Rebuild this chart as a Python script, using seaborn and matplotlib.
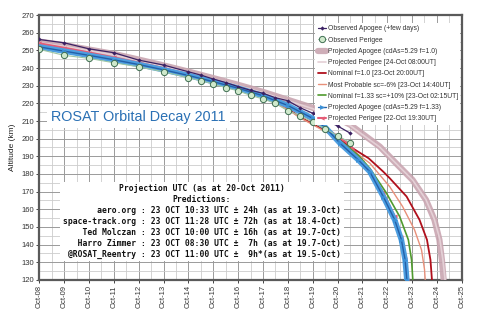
import matplotlib
matplotlib.use("Agg")
import matplotlib.pyplot as plt
from matplotlib.ticker import MultipleLocator
import seaborn as sns
import pandas as pd

# ---- data (days since Oct-08 00:00 UT, altitude km) ----
tick_labels = ["Oct-08", "Oct-09", "Oct-10", "Oct-11", "Oct-12", "Oct-13", "Oct-14",
               "Oct-15", "Oct-16", "Oct-17", "Oct-18", "Oct-19", "Oct-20", "Oct-21",
               "Oct-22", "Oct-23", "Oct-24", "Oct-25"]

obs_days = [0, 1, 2, 3, 4, 5, 6, 6.5, 7, 7.5, 8, 8.5, 9, 9.5, 10, 10.5, 11, 11.5, 12, 12.5]
obs_apogee = [256.2, 254.3, 250.9, 248.7, 244.5, 241.7, 237.9, 236.0, 233.8, 231.8,
              229.5, 227.4, 225.7, 223.2, 221.5, 217.5, 214.4, 210.6, 207.2, 203.2]
obs_perigee = [250.6, 247.2, 245.5, 243.0, 240.7, 237.9, 234.5, 232.9, 231.0, 228.9,
               227.1, 224.5, 222.5, 220.0, 215.8, 213.0, 209.3, 205.7, 201.7, 197.8]

apo10_days = [0, 1, 2, 3, 4, 5, 6, 7, 8, 9, 10, 11, 12, 12.5, 13.17, 13.7, 14.35,
              15.02, 15.56, 15.9, 16.1, 16.2, 16.27]
apo10_alt = [255.0, 253.0, 250.5, 248.0, 244.8, 241.5, 238.0, 234.3, 230.5, 226.5,
             222.0, 217.5, 211.5, 208.0, 201.0, 195.5, 186.1, 176.6, 165.3, 154.0,
             142.7, 131.3, 120.0]

per24_days = [0, 1, 2, 3, 4, 5, 6, 7, 8, 9, 10, 11, 12, 12.5, 13.17, 13.7, 14.35,
              15.02, 15.56, 15.9, 16.12, 16.24, 16.33]
per24_alt = [254.3, 252.3, 249.9, 247.4, 244.3, 241.0, 237.5, 233.8, 230.0, 226.0,
             221.5, 217.0, 211.0, 207.5, 200.6, 195.2, 186.0, 176.6, 165.4, 154.2,
             142.8, 131.4, 120.0]

nom10_days = [0, 2, 4, 6, 8, 9, 10, 10.46, 11.83, 12.5, 13.25, 13.84, 14.1, 14.78,
              15.3, 15.6, 15.74, 15.8]
nom10_alt = [252.8, 247.8, 242.6, 236.2, 228.3, 223.8, 217.0, 212.5, 202.1, 195.5,
             188.9, 181.3, 177.6, 167.2, 154.0, 142.7, 131.3, 120.0]

prob_days = [0, 2, 4, 6, 8, 9, 10, 10.46, 11.83, 12.5, 13.3, 14.1, 14.62, 15.1,
             15.38, 15.5, 15.53]
prob_alt = [252.4, 247.4, 242.2, 235.8, 227.9, 223.4, 216.6, 212.1, 201.5, 194.5,
            186.1, 172.8, 161.5, 148.3, 137.0, 126.0, 120.0]

nom133_days = [0, 1, 2, 3, 4, 5, 6, 7, 8, 9, 10, 11, 12, 12.84, 13.3, 13.97, 14.5,
               14.85, 14.98, 15.03]
nom133_alt = [252.8, 250.3, 247.8, 245.2, 242.5, 239.5, 236.3, 232.8, 229.0, 224.8,
              219.3, 212.0, 200.0, 190.5, 183.2, 169.1, 155.9, 142.7, 131.3, 120.0]

apo133_days = [0, 1, 2, 3, 4, 5, 6, 7, 8, 9, 10, 11, 11.5, 12.1, 12.84, 13.3, 13.84,
               14.3, 14.57, 14.72, 14.79]
apo133_alt = [252.0, 249.6, 247.2, 244.7, 242.0, 239.0, 235.8, 232.3, 228.6, 224.3,
              218.8, 211.5, 206.5, 197.4, 187.9, 181.3, 167.2, 154.0, 142.7, 131.3,
              120.0]

per22_days = [0, 1, 2, 3, 4, 5, 6, 7, 8, 9, 10, 10.5, 11, 11.5, 12, 12.5, 13, 13.44,
              13.84, 14.3, 14.57, 14.72, 14.8]
per22_alt = [254.0, 251.5, 248.8, 246.0, 243.0, 240.0, 236.5, 232.6, 228.5, 224.0,
             218.0, 214.5, 210.0, 206.0, 201.5, 196.5, 187.0, 178.5, 169.5, 156.0,
             144.0, 132.0, 120.0]

title_text = "ROSAT Orbital Decay 2011"
note_lines = [
    "Projection UTC (as at 20-Oct 2011)",
    "Predictions:",
    "       aero.org : 23 OCT 10:33 UTC \u00b1 24h (as at 19.3-Oct)",
    "space-track.org : 23 OCT 11:28 UTC \u00b1 72h (as at 18.4-Oct)",
    "    Ted Molczan : 23 OCT 10:00 UTC \u00b1 16h (as at 19.7-Oct)",
    "   Harro Zimmer : 23 OCT 08:30 UTC \u00b1  7h (as at 19.7-Oct)",
    " @ROSAT_Reentry : 23 OCT 11:00 UTC \u00b1  9h*(as at 19.5-Oct)",
]

# ---- style ----
sns.set_style("white")
plt.rcParams["font.family"] = ["Liberation Sans", "DejaVu Sans"]

fig = plt.figure(figsize=(4.8, 3.22), dpi=100)
ax = fig.add_axes([0.082, 0.131, 0.880, 0.822])


def line(days, alt, **kw):
    df = pd.DataFrame({"d": days, "a": alt})
    sns.lineplot(data=df, x="d", y="a", sort=False, estimator=None, ax=ax, **kw)


line(apo10_days, apo10_alt, color="#c9a5b1", linewidth=4.5, alpha=0.9,
     label="Projected Apogee (cdAs=5.29 f=1.0)", zorder=3)
line(per24_days, per24_alt, color="#e4d0d6", linewidth=1.2,
     label="Projected Perigee [24-Oct 08:00UT]", zorder=4)
line(nom10_days, nom10_alt, color="#b0101c", linewidth=1.3,
     label="Nominal f=1.0 [23-Oct 20:00UT]", zorder=5)
line(prob_days, prob_alt, color="#e8907a", linewidth=1.0,
     label="Most Probable sc=-6% [23-Oct 14:40UT]", zorder=5)
line(per22_days, per22_alt, color="#e45c76", linewidth=1.5, marker="<",
     markersize=3, markeredgewidth=0, label="Projected Perigee [22-Oct 19:30UT]",
     zorder=5)
line(nom133_days, nom133_alt, color="#4f9a2e", linewidth=1.2,
     label="Nominal f=1.33 sc=+10% [23-Oct 02:15UT]", zorder=6)
line(apo133_days, apo133_alt, color="#4d9ee0", linewidth=4.0, zorder=6)
line(apo133_days, apo133_alt, color="#2460a8", linewidth=1.0, marker=">",
     markersize=3.5, markerfacecolor="#3a90d6", markeredgewidth=0,
     label="Projected Apogee (cdAs=5.29 f=1.33)", zorder=7)
line(obs_days, obs_apogee, color="#3b2163", linewidth=0.9, marker="D",
     markersize=2.2, markeredgewidth=0, label="Observed Apogee (+few days)", zorder=8)
line(obs_days, obs_perigee, color="#9cc6a4", linewidth=0.8, marker="o",
     markersize=4.5, markerfacecolor="#cfe9cc", markeredgecolor="#3f6e52",
     markeredgewidth=0.7, label="Observed Perigee", zorder=9)

# ---- axes ----
ax.set_xlim(0, 17)
ax.set_ylim(120, 270)
ax.set_xticks(range(len(tick_labels)))
ax.set_xticklabels(tick_labels, rotation=90, fontsize=5.5, color="#333333")
ax.yaxis.set_major_locator(MultipleLocator(10))
ax.yaxis.set_minor_locator(MultipleLocator(5))
ax.xaxis.set_minor_locator(MultipleLocator(0.5))
ax.tick_params(axis="y", labelsize=5.5, labelcolor="#333333", length=2, width=0.6,
               pad=1.5, left=True)
ax.tick_params(axis="x", length=2, width=0.6, pad=2, bottom=True)
ax.tick_params(which="minor", length=0)
ax.grid(which="major", color="#9a9a9a", linewidth=0.7, zorder=0)
ax.grid(which="minor", color="#cccccc", linewidth=0.6, zorder=0)
ax.set_axisbelow(True)
ax.set_xlabel("")
ax.set_ylabel("Altitude (km)", fontsize=6, color="#222222", labelpad=4)
for s in ax.spines.values():
    s.set_visible(True)
    s.set_color("#5a5a5a")
    s.set_linewidth(1.6)

# ---- legend ----
handles, labels = ax.get_legend_handles_labels()
order = ["Observed Apogee (+few days)", "Observed Perigee",
         "Projected Apogee (cdAs=5.29 f=1.0)", "Projected Perigee [24-Oct 08:00UT]",
         "Nominal f=1.0 [23-Oct 20:00UT]", "Most Probable sc=-6% [23-Oct 14:40UT]",
         "Nominal f=1.33 sc=+10% [23-Oct 02:15UT]", "Projected Apogee (cdAs=5.29 f=1.33)",
         "Projected Perigee [22-Oct 19:30UT]"]
hmap = dict(zip(labels, handles))
leg = ax.legend([hmap[l] for l in order], order, loc="upper right",
                bbox_to_anchor=(1.0, 0.975), fontsize=4.9, handlelength=1.2,
                handletextpad=0.3, labelspacing=0.62, borderpad=0.35,
                frameon=True, fancybox=False, borderaxespad=0.2)
leg.get_frame().set_facecolor("white")
leg.get_frame().set_edgecolor("none")
leg.get_frame().set_alpha(1.0)
for t in leg.get_texts():
    t.set_color("#333333")
leg.set_zorder(20)

# ---- annotations ----
ax.text(3.97, 212.4, title_text, ha="center", va="center", fontsize=10.4,
        color="#2a70b4", zorder=21,
        bbox=dict(facecolor="white", edgecolor="none", pad=3))
ax.text(6.55, 153.1, "\n".join(note_lines), ha="center", va="center",
        multialignment="center", fontsize=5.75, family="DejaVu Sans Mono",
        fontweight="bold", color="#111111", linespacing=1.27, zorder=21,
        bbox=dict(facecolor="white", edgecolor="none", pad=2))

fig.savefig("out.png", dpi=100)
